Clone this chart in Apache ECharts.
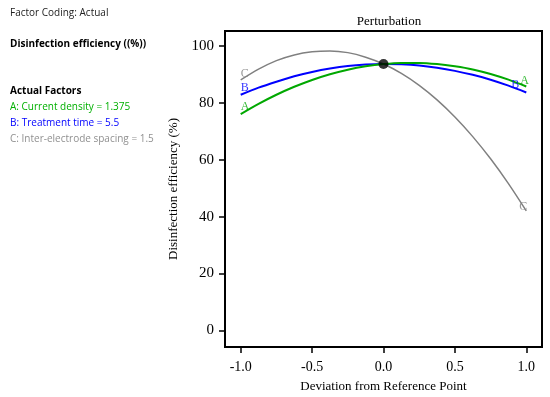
<!DOCTYPE html>
<html><head><meta charset="utf-8">
<script src="https://cdn.jsdelivr.net/npm/echarts@6/dist/echarts.min.js"></script>
<style>html,body{margin:0;padding:0;background:#fff}#c{width:550px;height:397px}</style>
</head><body><div id="c"></div>
<script>
const xs = [-1, -0.875, -0.75, -0.625, -0.5, -0.375, -0.25, -0.125, 0, 0.125, 0.25, 0.375, 0.5, 0.625, 0.75, 0.875, 1];
const seriesA = [76.0, 79.6, 82.8, 85.6, 88.0, 90.0, 91.6, 92.8, 93.6, 94.0, 94.0, 93.6, 92.8, 91.7, 90.1, 88.1, 85.7];
const seriesB = [82.8, 85.3, 87.4, 89.3, 90.8, 92.0, 92.9, 93.4, 93.6, 93.5, 93.1, 92.3, 91.2, 89.8, 88.1, 86.0, 83.6];
const seriesC = [88.0, 91.8, 94.8, 96.8, 97.9, 98.2, 97.6, 96.0, 93.6, 90.3, 86.1, 81.0, 75.0, 68.1, 60.3, 51.6, 42.0];
const refPoint = [0, 93.6];
const xTicks = [-1, -0.5, 0, 0.5, 1];
const yTicks = [0, 20, 40, 60, 80, 100];
const sideText = [
  ['Factor Coding: Actual', 'normal', '#222'],
  ['Disinfection efficiency ((%))', 'bold', '#000'],
  ['Actual Factors', 'bold', '#000'],
  ['A: Current density = 1.375', 'normal', '#00b000'],
  ['B: Treatment time = 5.5', 'normal', '#0000ff'],
  ['C: Inter-electrode spacing = 1.5', 'normal', '#909090']
];
const sideY = [15, 46, 93, 109, 125, 141];

const serif = 'Liberation Serif';
function ends(vals, name, color, leftPos, rightPos) {
  const n = vals.length - 1;
  return [
    { value: [xs[0], vals[0]], label: { show: true, formatter: name, position: leftPos, color: color, fontFamily: serif, fontSize: 12 } },
    { value: [xs[n], vals[n]], label: { show: true, formatter: name, position: rightPos, color: color, fontFamily: serif, fontSize: 12 } }
  ];
}
function line(vals, color, w, z) {
  return { type: 'line', smooth: 0.3, symbol: 'none', z: z,
    lineStyle: { color: color, width: w }, data: vals.map((v, i) => [xs[i], v]) };
}
function lbl(vals, name, color, lp, rp) {
  return { type: 'scatter', symbolSize: 0, z: 6, silent: true, data: ends(vals, name, color, lp, rp) };
}

const chart = echarts.init(document.getElementById('c'), null, { renderer: 'canvas' });
chart.setOption({
  animation: false,
  backgroundColor: '#fff',
  title: { text: 'Perturbation', left: 384, top: 10, textAlign: 'center',
    textStyle: { fontFamily: serif, fontSize: 13, fontWeight: 'normal', color: '#000' } },
  grid: { left: 225, top: 31, right: 8, bottom: 50, show: true, borderColor: '#000', borderWidth: 2,
    containLabel: false, outerBoundsMode: 'none' },
  xAxis: {
    type: 'value', min: -1.11, max: 1.11,
    name: 'Deviation from Reference Point', nameLocation: 'middle', nameGap: 33,
    nameTextStyle: { fontFamily: serif, fontSize: 13, color: '#000' },
    axisLine: { show: true, onZero: false, lineStyle: { color: '#000', width: 2 } },
    axisTick: { show: true, inside: false, length: 6, customValues: xTicks, lineStyle: { color: '#000', width: 1.5 } },
    axisLabel: { customValues: xTicks, formatter: v => v.toFixed(1), fontFamily: serif, fontSize: 14, color: '#000', margin: 13 },
    splitLine: { show: false }
  },
  yAxis: {
    type: 'value', min: -5.8, max: 105.2,
    name: 'Disinfection efficiency (%)', nameLocation: 'middle', nameGap: 45, nameRotate: 90,
    nameTextStyle: { fontFamily: serif, fontSize: 13, color: '#000' },
    axisLine: { show: true, onZero: false, lineStyle: { color: '#000', width: 2 } },
    axisTick: { show: true, inside: false, length: 6, customValues: yTicks, lineStyle: { color: '#000', width: 1.5 } },
    axisLabel: { customValues: yTicks, fontFamily: serif, fontSize: 15, color: '#000', margin: 11 },
    splitLine: { show: false }
  },
  series: [
    line(seriesC, '#808080', 1.5, 2),
    line(seriesB, '#0000ff', 2, 3),
    line(seriesA, '#00a800', 2, 4),
    { type: 'scatter', symbol: 'circle', symbolSize: 10, z: 5,
      itemStyle: { color: '#000' }, data: [refPoint] },
    lbl(seriesC, 'C', '#808080', [0, -12], [-7, -10]),
    lbl(seriesB, 'B', '#0000ff', [0, -13], [-15, -14]),
    lbl(seriesA, 'A', '#00a800', [0, -13], [-6, -12])
  ],
  graphic: sideText.map((t, i) => ({
    type: 'text', left: 10, top: sideY[i] - 7,
    style: { text: t[0], fontFamily: 'Open Sans', fontSize: 10, fontWeight: t[1], fill: t[2] }
  }))
});
</script></body></html>
